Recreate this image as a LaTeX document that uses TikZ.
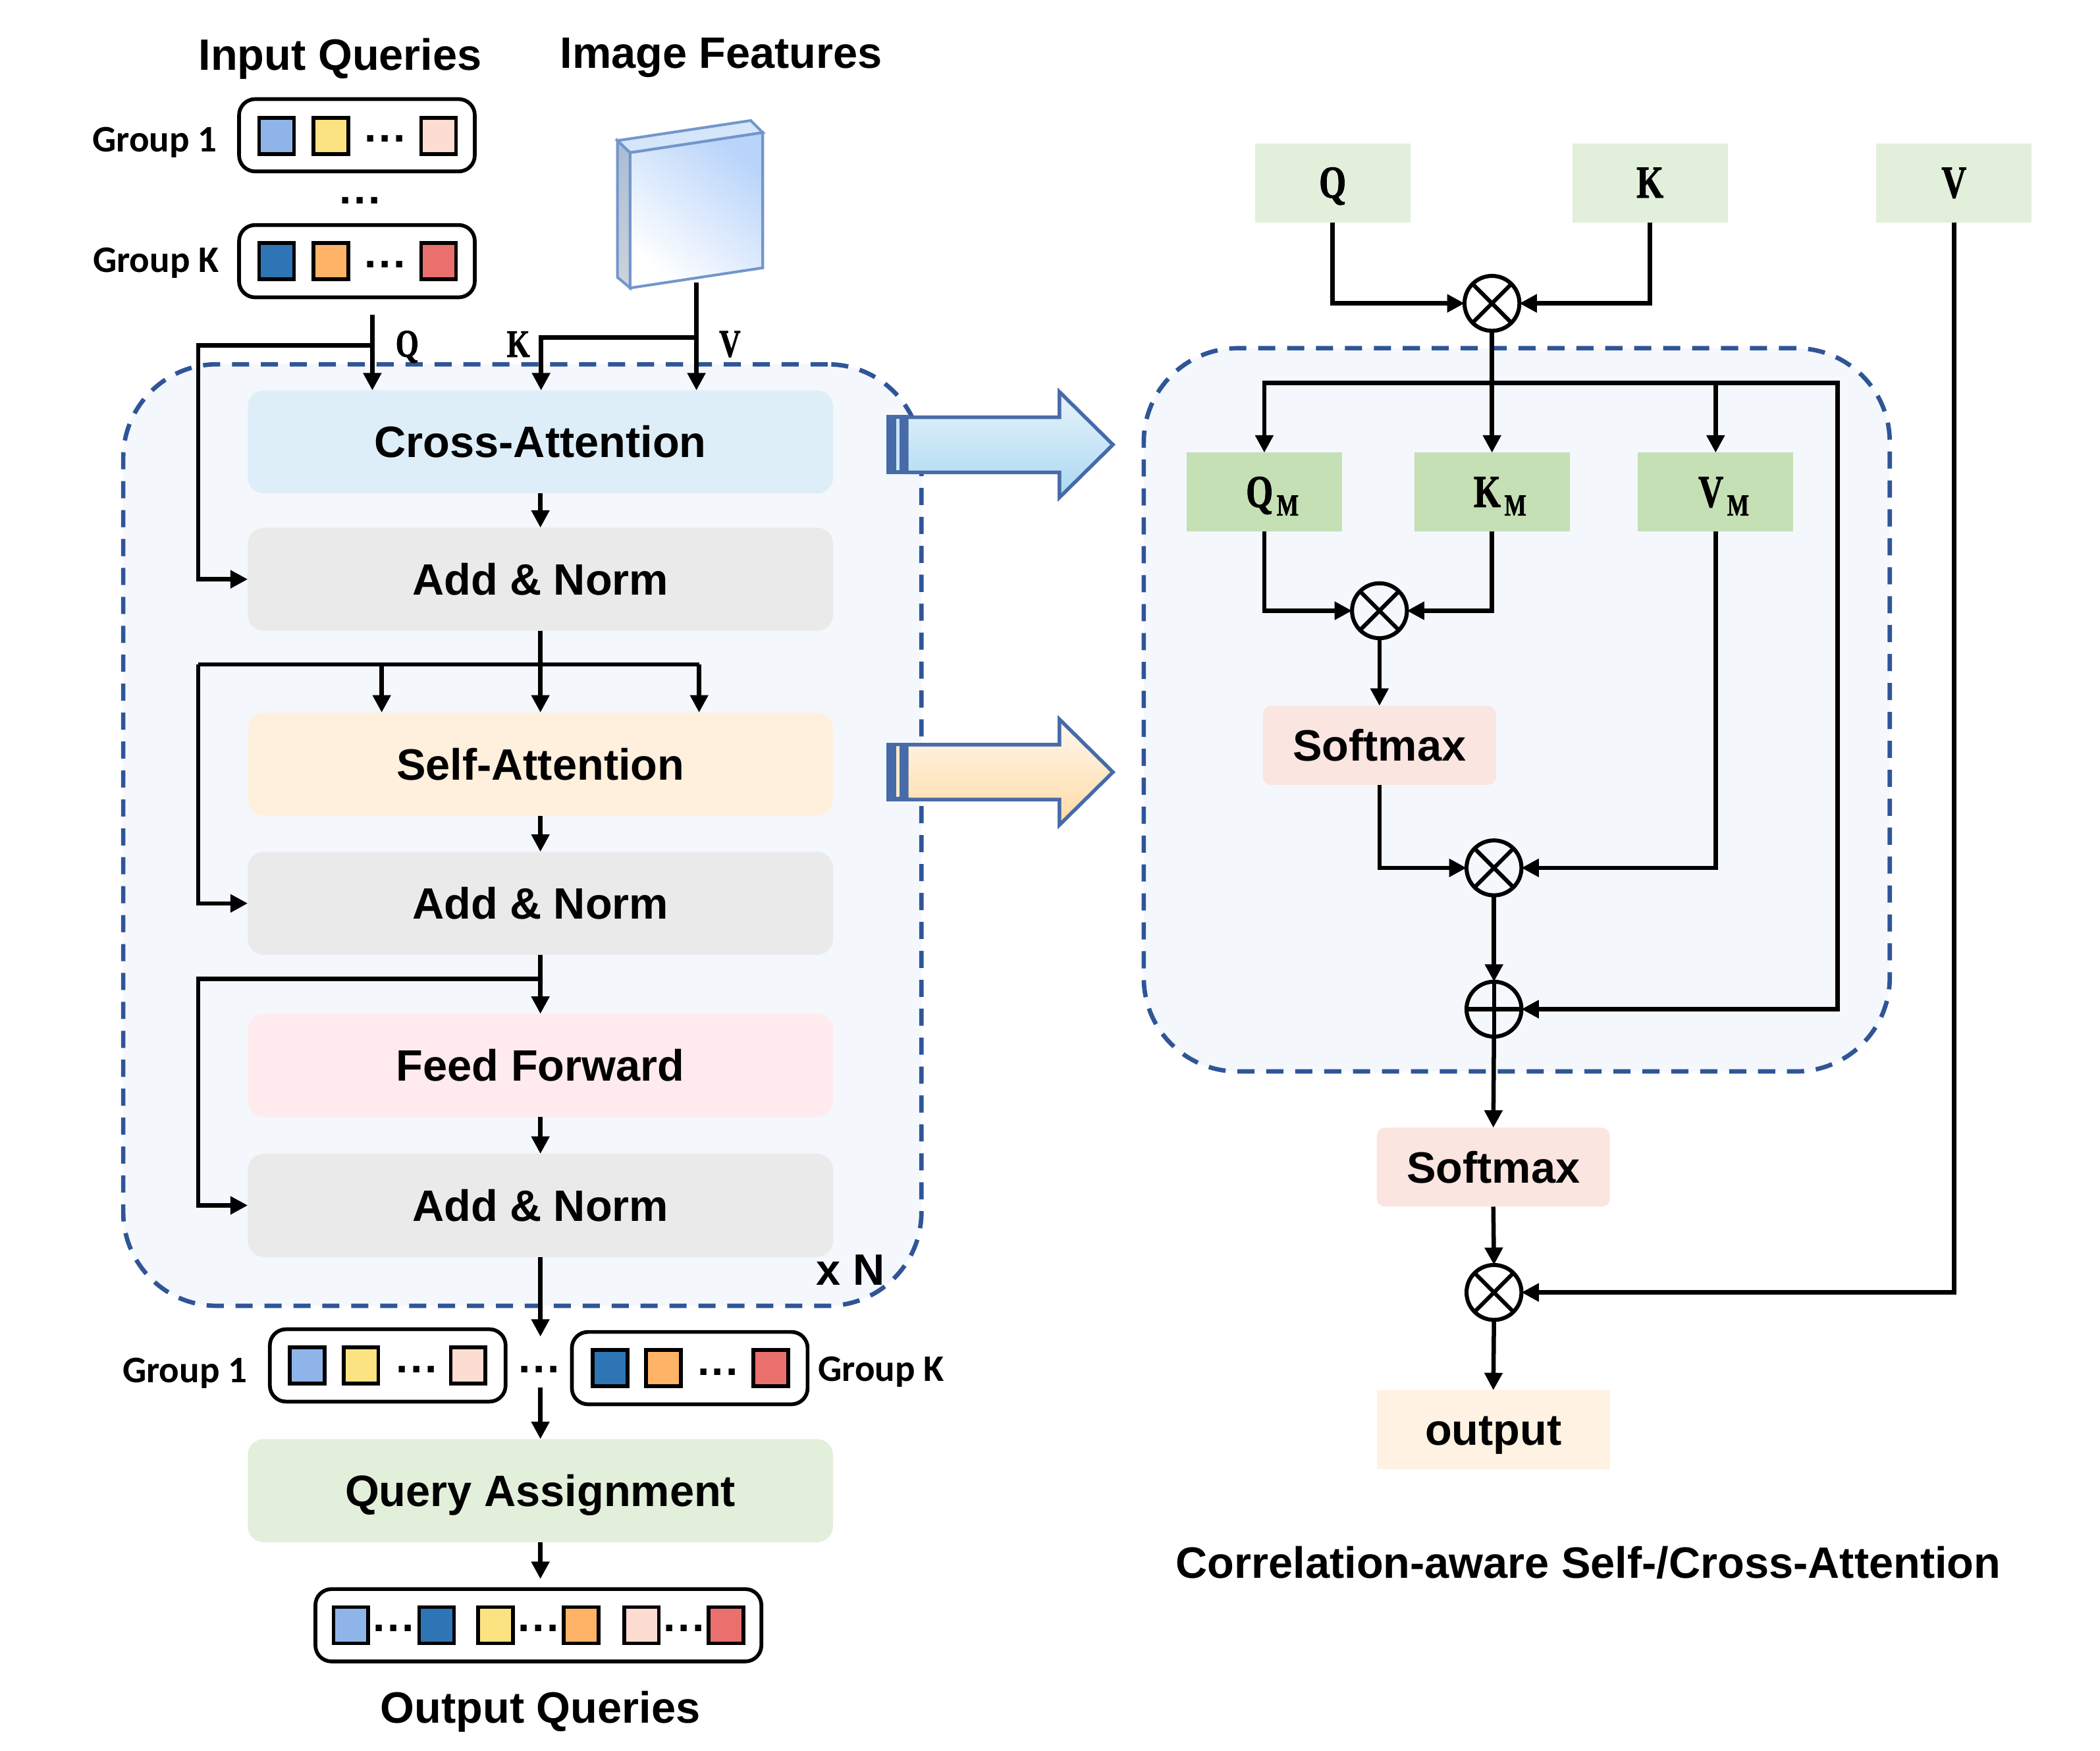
\documentclass[tikz,border=0pt]{standalone}
\usepackage{fontspec}
\setmainfont{Liberation Sans}
\newfontfamily\grpfont{Carlito}
\newfontface\serfont{Liberation Serif Bold}[FakeBold=1.6]
\usetikzlibrary{arrows.meta,calc,shadings}
\definecolor{panelfill}{HTML}{F4F7FC}
\definecolor{dashblue}{HTML}{2F5597}
\definecolor{crossc}{HTML}{DEEEF8}
\definecolor{normc}{HTML}{EAEAEA}
\definecolor{selfc}{HTML}{FFF0DE}
\definecolor{feedc}{HTML}{FFEBEE}
\definecolor{queryc}{HTML}{E2EFDA}
\definecolor{mc}{HTML}{C5E0B4}
\definecolor{softc}{HTML}{FBE5E0}
\definecolor{outc}{HTML}{FFF2E2}
\definecolor{qa}{HTML}{8FB4EA}
\definecolor{qb}{HTML}{FBE382}
\definecolor{qc}{HTML}{FDDCD2}
\definecolor{qd}{HTML}{2E75B6}
\definecolor{qe}{HTML}{FFB366}
\definecolor{qf}{HTML}{EA706D}
\definecolor{blockedge}{HTML}{476BA8}
\definecolor{slabedge}{HTML}{7296CC}
\definecolor{arrbt}{HTML}{E8F3FB}
\definecolor{arrbb}{HTML}{ABD8F2}
\definecolor{arrot}{HTML}{FFF8EF}
\definecolor{arrob}{HTML}{FFDAA4}
\definecolor{slabtop}{HTML}{D5E6FA}
\definecolor{slabfront}{HTML}{B8D4FA}
\definecolor{slabsidet}{HTML}{A9BCD6}
\definecolor{slabsideb}{HTML}{CDD4DA}
\newcommand{\condensed}[1]{\scalebox{.76}[1]{#1}}
\newcommand{\subM}[1]{\hspace*{6pt}\condensed{#1}\kern1.4pt\raisebox{-3.2pt}{\fontsize{11.4}{11.4}\serfont\condensed{M}}}
\newcommand{\tdots}{.\kern.9pt.\kern.9pt.}
\tikzset{
  panel/.style={draw=dashblue,fill=panelfill,line width=1.65pt,dash pattern=on 6.4pt off 4.4pt,rounded corners=35pt,inner sep=0pt,outer sep=0pt},
  blockbox/.style={rounded corners=6pt,minimum width=218.5pt,minimum height=38.5pt,inner sep=0pt,outer sep=0pt,font=\fontsize{16.4}{16.4}\selectfont\bfseries,text height=11.7pt,text depth=0pt},
  rbox/.style={minimum width=58pt,minimum height=29.5pt,inner sep=0pt,outer sep=0pt,font=\fontsize{17}{17}\serfont,text height=11pt,text depth=0pt},
  softbox/.style={rounded corners=3pt,minimum width=87pt,minimum height=29.5pt,inner sep=0pt,outer sep=0pt,font=\fontsize{16.4}{16.4}\selectfont\bfseries,text height=11.7pt,text depth=0pt},
  groupbox/.style={draw=black,fill=white,line width=1.4pt,rounded corners=6pt,minimum width=88pt,minimum height=27pt,inner sep=0pt,outer sep=0pt},
  sq/.style={draw=black,line width=1.4pt,minimum width=13pt,minimum height=13.5pt,inner sep=0pt,outer sep=0pt},
  title/.style={font=\fontsize{16.4}{16.4}\selectfont\bfseries,inner sep=0pt},
  grplabel/.style={font=\fontsize{14}{14}\selectfont\grpfont\bfseries,inner sep=0pt},
  letter/.style={font=\fontsize{14.5}{14.5}\serfont,inner sep=0pt},
  dotsn/.style={font=\fontsize{16.2}{16.2}\selectfont\bfseries,inner sep=0pt,anchor=base},
  conn/.style={line width=1.6pt,-{Triangle[length=6.5pt,width=6.5pt]}},
  plain/.style={line width=1.6pt},
  oper/.style={circle,draw=black,fill=none,line width=1.5pt,minimum size=20.5pt,inner sep=0pt,outer sep=0pt},
  otimesn/.style={oper,path picture={\draw[line width=1.5pt] (path picture bounding box.south west)--(path picture bounding box.north east) (path picture bounding box.north west)--(path picture bounding box.south east);}},
  oplusn/.style={oper,path picture={\draw[line width=1.5pt] (path picture bounding box.south)--(path picture bounding box.north) (path picture bounding box.west)--(path picture bounding box.east);}},
  blockarrow/.style={draw=blockedge,line width=1.35pt,miter limit=10},
}
\begin{document}
\begin{tikzpicture}[x=0.5pt,y=-0.5pt]
\useasboundingbox (0,0) rectangle (1568,1307);
% panels
\node[panel,minimum width=298pt,minimum height=351.5pt] (leftpanel) at (390,623.5) {};
\node[panel,minimum width=278.5pt,minimum height=270pt] (rightpanel) at (1132.5,530) {};
% titles
\node[title] (tinput) at (254,44) {Input Queries};
\node[title] (timage) at (538.5,43) {Image Features};
\node[title] (toutput) at (403.5,1278) {Output Queries};
\node[title] (tcorr) at (1186,1167) {Correlation-aware Self-/Cross-Attention};
\node[title] (tn) at (635,948) {x N};
% group labels
\node[grplabel] (lg1) at (115.5,106.5) {Group 1};
\node[grplabel] (lgk) at (116.5,196.5) {Group K};
\node[grplabel] (lo1) at (138,1025.5) {Group 1};
\node[grplabel] (lok) at (658,1024.5) {Group K};
% input groups
\node[groupbox] (g1) at (266.5,101) {};
\node[groupbox] (gk) at (266.5,195) {};
\node[sq,fill=qa] at (206.5,101.5) (g1a) {};
\node[sq,fill=qb] at (247,101.5) (g1b) {};
\node[sq,fill=qc] at (327.5,101.5) (g1c) {};
\node[sq,fill=qd] at (206.5,195) (gka) {};
\node[sq,fill=qe] at (247,195) (gkb) {};
\node[sq,fill=qf] at (327.5,195) (gkc) {};
\node[dotsn] (d1) at (287.5,106) {\tdots};
\node[dotsn] (d2) at (269,152) {\tdots};
\node[dotsn] (d3) at (287.5,200) {\tdots};
% output groups
\node[groupbox] (o1) at (289.5,1019.5) {};
\node[groupbox] (ok) at (515,1021.5) {};
\node[sq,fill=qa] (o1a) at (229.5,1019.5) {};
\node[sq,fill=qb] (o1b) at (269.5,1019.5) {};
\node[sq,fill=qc] (o1c) at (349.5,1019.5) {};
\node[sq,fill=qd] (oka) at (455.5,1021.5) {};
\node[sq,fill=qe] (okb) at (495.5,1021.5) {};
\node[sq,fill=qf] (okc) at (575.5,1021.5) {};
\node[dotsn] (d4) at (311,1025) {\tdots};
\node[dotsn] (d5) at (402.5,1025) {\tdots};
\node[dotsn] (d6) at (536,1027) {\tdots};
% output queries
\node[groupbox,minimum width=166.5pt] (oq) at (402,1213.5) {};
\node[sq,fill=qa] (oqa) at (262,1213.5) {};
\node[sq,fill=qd] (oqb) at (326,1213.5) {};
\node[sq,fill=qb] (oqc) at (370,1213.5) {};
\node[sq,fill=qe] (oqd) at (434,1213.5) {};
\node[sq,fill=qc] (oqe) at (479,1213.5) {};
\node[sq,fill=qf] (oqf) at (542,1213.5) {};
\node[dotsn] (d7) at (294,1218) {\tdots};
\node[dotsn] (d8) at (402,1218) {\tdots};
\node[dotsn] (d9) at (510.5,1218) {\tdots};
% image features slab
\fill[top color=slabsidet,bottom color=slabsideb] (461,105) -- (470.5,114) -- (470.5,215) -- (461,207) -- cycle;
\draw[slabedge,line width=1pt,fill=slabtop] (461,105) -- (560.5,90) -- (569.5,99) -- (470.5,114) -- cycle;
\draw[slabedge,line width=1pt,shading=axis,left color=white,right color=slabfront,shading angle=140] (470.5,114) -- (569.5,99) -- (569.5,200) -- (470.5,215) -- cycle;
\draw[slabedge,line width=1pt] (461,105) -- (470.5,114) -- (470.5,215) -- (461,207) -- cycle;
% left column
\node[blockbox,fill=crossc] (cross) at (403.5,330) {Cross-Attention};
\node[blockbox,fill=normc] (an1) at (403.5,432.5) {Add \& Norm};
\node[blockbox,fill=selfc] (self) at (403.5,570.5) {Self-Attention};
\node[blockbox,fill=normc] (an2) at (403.5,674.5) {Add \& Norm};
\node[blockbox,fill=feedc] (feed) at (403.5,795.5) {Feed Forward};
\node[blockbox,fill=normc] (an3) at (403.5,900) {Add \& Norm};
\node[blockbox,fill=queryc] (qa) at (403.5,1113) {Query Assignment};
% small letters
\node[letter] (lq) at (304,259) {\condensed{Q}};
\node[letter] (lk) at (387,257) {\condensed{K}};
\node[letter] (lv) at (545,257) {\condensed{V}};
% coordinates
\coordinate (qs) at (278,235);
\coordinate (qj) at (278,258);
\coordinate (ql) at (148,258);
\coordinate (vs) at (520,211);
\coordinate (vj) at (520,252);
\coordinate (kt) at (404,252);
\coordinate (j1) at (403.5,496);
\coordinate (j1l) at (148,496);
\coordinate (j1a) at (285,496);
\coordinate (j1b) at (522,496);
\coordinate (j2) at (403.5,731);
\coordinate (j2l) at (148,731);
\coordinate (gs) at (403.5,998);
\coordinate (gt) at (403.5,1036);
\coordinate (oe) at (403.5,1179);
% left connectors
\draw[conn] (qs) -- (qs |- cross.north);
\draw[conn] (qj) -- (ql) -- (ql |- an1.west) -- (an1.west);
\draw[conn] (vs) -- (vs |- cross.north);
\draw[conn] (vj) -- (kt) -- (kt |- cross.north);
\draw[conn] (cross.south) -- (an1.north);
\draw[conn] (an1.south) -- (self.north);
\draw[plain] (j1l) -- (j1b);
\draw[conn] (j1a) -- (j1a |- self.north);
\draw[conn] (j1b) -- (j1b |- self.north);
\draw[conn] (j1l) -- (j1l |- an2.west) -- (an2.west);
\draw[conn] (self.south) -- (an2.north);
\draw[conn] (an2.south) -- (feed.north);
\draw[conn] (j2) -- (j2l) -- (j2l |- an3.west) -- (an3.west);
\draw[conn] (feed.south) -- (an3.north);
\draw[conn] (an3.south) -- (gs);
\draw[conn] (gt) -- (qa.north);
\draw[conn] (qa.south) -- (oe);
% block arrows
\fill[blockedge] (662,310) rectangle (678,354);
\fill[arrbt!50!arrbb] (669,312.5) rectangle (671.7,351);
\draw[blockarrow,top color=arrbt,bottom color=arrbb] (677,311.5) -- (791,311.5) -- (791,292.5) -- (831,332) -- (791,371.5) -- (791,352.7) -- (677,352.7) -- cycle;
\fill[blockedge] (662,554.7) rectangle (678,598.3);
\fill[arrot!50!arrob] (669,557) rectangle (671.7,595);
\draw[blockarrow,top color=arrot,bottom color=arrob] (677,556) -- (791,556) -- (791,537) -- (831,576.5) -- (791,616) -- (791,597) -- (677,597) -- cycle;
% right column
\node[rbox,fill=queryc] (Q) at (995,136.5) {\condensed{Q}};
\node[rbox,fill=queryc] (K) at (1232,136.5) {\condensed{K}};
\node[rbox,fill=queryc] (V) at (1459,136.5) {\condensed{V}};
\node[rbox,fill=mc] (QM) at (944,367.5) {\subM{Q}};
\node[rbox,fill=mc] (KM) at (1114,367.5) {\subM{K}};
\node[rbox,fill=mc] (VM) at (1281,367.5) {\subM{V}};
\node[softbox,fill=softc] (soft1) at (1030,556.5) {Softmax};
\node[softbox,fill=softc] (soft2) at (1115,871.5) {Softmax};
\node[softbox,fill=outc,rounded corners=0pt] (out) at (1115,1067.5) {output};
\node[otimesn] (m1) at (1114,226.5) {};
\node[otimesn] (m2) at (1030,456) {};
\node[otimesn] (m3) at (1115.5,648) {};
\node[oplusn] (p1) at (1115.5,753.5) {};
\node[otimesn] (m4) at (1115.5,965) {};
\coordinate (bj) at (1114,286);
\coordinate (bl) at (944,286);
\coordinate (bv) at (1281,286);
\coordinate (br) at (1372,286);
% right connectors
\draw[conn] (Q.south) -- (Q.south |- m1.west) -- (m1.west);
\draw[conn] (K.south) -- (K.south |- m1.east) -- (m1.east);
\draw[conn] (m1.south) -- (KM.north -| m1.south);
\draw[conn] (bj) -- (bl) -- (QM.north);
\draw[conn] (bv) -- (VM.north);
\draw[conn] (bj) -- (br) -- (br |- p1.east) -- (p1.east);
\draw[conn] (QM.south) -- (QM.south |- m2.west) -- (m2.west);
\draw[conn] (KM.south) -- (KM.south |- m2.east) -- (m2.east);
\draw[conn] (m2.south) -- (soft1.north);
\draw[conn] (soft1.south) -- (soft1.south |- m3.west) -- (m3.west);
\draw[conn] (VM.south) -- (VM.south |- m3.east) -- (m3.east);
\draw[conn] (m3.south) -- (p1.north);
\draw[conn] (p1.south) -- (soft2.north);
\draw[conn] (soft2.south) -- (m4.north);
\draw[conn] (V.south) -- (V.south |- m4.east) -- (m4.east);
\draw[conn] (m4.south) -- (out.north);
\end{tikzpicture}
\end{document}
